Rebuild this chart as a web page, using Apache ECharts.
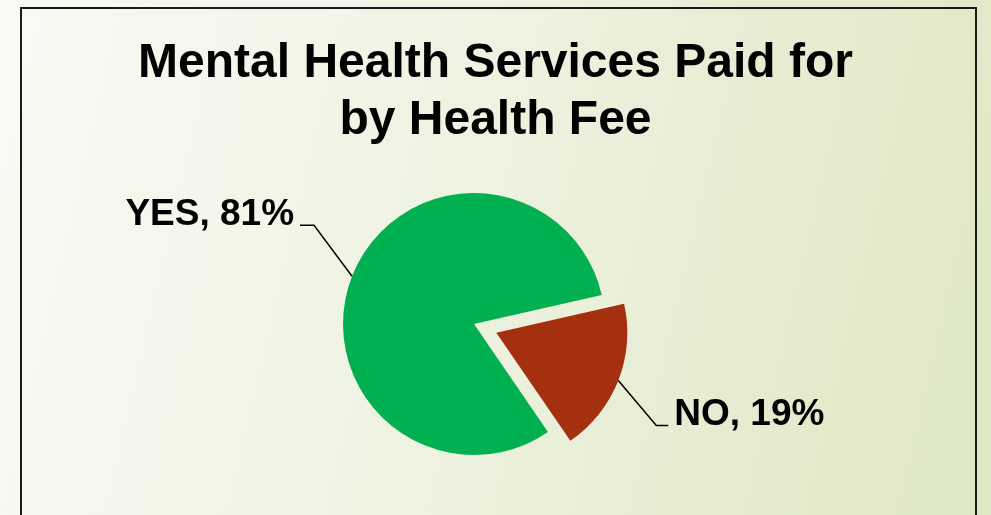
<!DOCTYPE html>
<html>
<head>
<meta charset="utf-8">
<script src="https://cdn.jsdelivr.net/npm/echarts@6/dist/echarts.min.js"></script>
<style>
  html, body { margin: 0; padding: 0; }
  #main { width: 991px; height: 515px; }
</style>
</head>
<body>
<div id="main"></div>
<script>
var titleLines = ['Mental Health Services Paid for', 'by Health Fee'];
var categories = ['YES', 'NO'];
var shares = [81, 19];
var sliceColors = ['#00b050', '#a5300f'];
var explodedName = 'NO';

var myChart = echarts.init(document.getElementById('main'));

// pie geometry
var cx = 474, cy = 324, radius = 131;
var startAngle = 304.4;   // NO slice ends here, YES starts here
var explode = 24;

var total = shares.reduce(function (a, b) { return a + b; }, 0);

function midAngle(idx) {
  var before = 0;
  for (var i = 0; i < idx; i++) before += shares[i];
  var deg = startAngle - (before + shares[idx] / 2) / total * 360;
  return deg * Math.PI / 180;
}

var exIdx = categories.indexOf(explodedName);
var exAngle = midAngle(exIdx);
var exCenter = [cx + Math.cos(exAngle) * explode, cy - Math.sin(exAngle) * explode];

// leader line bends (elbow offset, horizontal tail)
var elbow = [[-38, -51], [38, 45]];
var tail = [14, 12];

// one pie for the body, one shifted pie for the pulled-out slice
function buildData(exploded) {
  return categories.map(function (name, i) {
    var visible = (i === exIdx) === exploded;
    return {
      name: name,
      value: shares[i],
      itemStyle: { color: visible ? sliceColors[i] : 'rgba(0,0,0,0)' },
      label: { show: visible },
      labelLine: { show: visible }
    };
  });
}

function layoutLabel(center) {
  return function (params) {
    var i = params.dataIndex;
    var a = midAngle(i);
    var p0 = [center[0] + Math.cos(a) * radius, center[1] - Math.sin(a) * radius];
    var p1 = [p0[0] + elbow[i][0], p0[1] + elbow[i][1]];
    var dir = elbow[i][0] < 0 ? -1 : 1;
    var p2 = [p1[0] + dir * tail[i], p1[1]];
    return {
      x: p2[0] + dir * 6,
      y: p2[1] + 8,
      align: dir < 0 ? 'right' : 'left',
      verticalAlign: 'bottom',
      labelLinePoints: [p0, p1, p2]
    };
  };
}

function pieSeries(center, exploded) {
  return {
    type: 'pie',
    center: center,
    radius: radius,
    startAngle: startAngle,
    clockwise: true,
    silent: true,
    emphasis: { disabled: true },
    data: buildData(exploded),
    label: {
      formatter: '{b}, {c}%',
      fontFamily: 'Liberation Sans',
      fontWeight: 'bold',
      fontSize: 37,
      color: '#000'
    },
    labelLine: {
      lineStyle: { color: '#000', width: 1.5 }
    },
    labelLayout: layoutLabel(center)
  };
}

var option = {
  animation: false,
  graphic: [
    {
      type: 'rect',
      z: 0,
      silent: true,
      shape: { x: 0, y: 0, width: 991, height: 515 },
      style: {
        fill: new echarts.graphic.LinearGradient(0, 0, 1, 0.45, [
          { offset: 0, color: '#f9faf4' },
          { offset: 0.5, color: '#eef2e0' },
          { offset: 1, color: '#dfe8c6' }
        ])
      }
    },
    {
      type: 'rect',
      z: 1,
      silent: true,
      shape: { x: 21, y: 8, width: 955, height: 540 },
      style: { fill: null, stroke: '#1a1a1a', lineWidth: 2 }
    }
  ],
  title: {
    text: titleLines.join('\n'),
    left: 'center',
    top: 30,
    textStyle: {
      fontFamily: 'Liberation Sans',
      fontWeight: 'bold',
      fontSize: 48,
      lineHeight: 57,
      color: '#000'
    }
  },
  series: [
    pieSeries([cx, cy], false),
    pieSeries(exCenter, true)
  ]
};

myChart.setOption(option);
</script>
</body>
</html>
